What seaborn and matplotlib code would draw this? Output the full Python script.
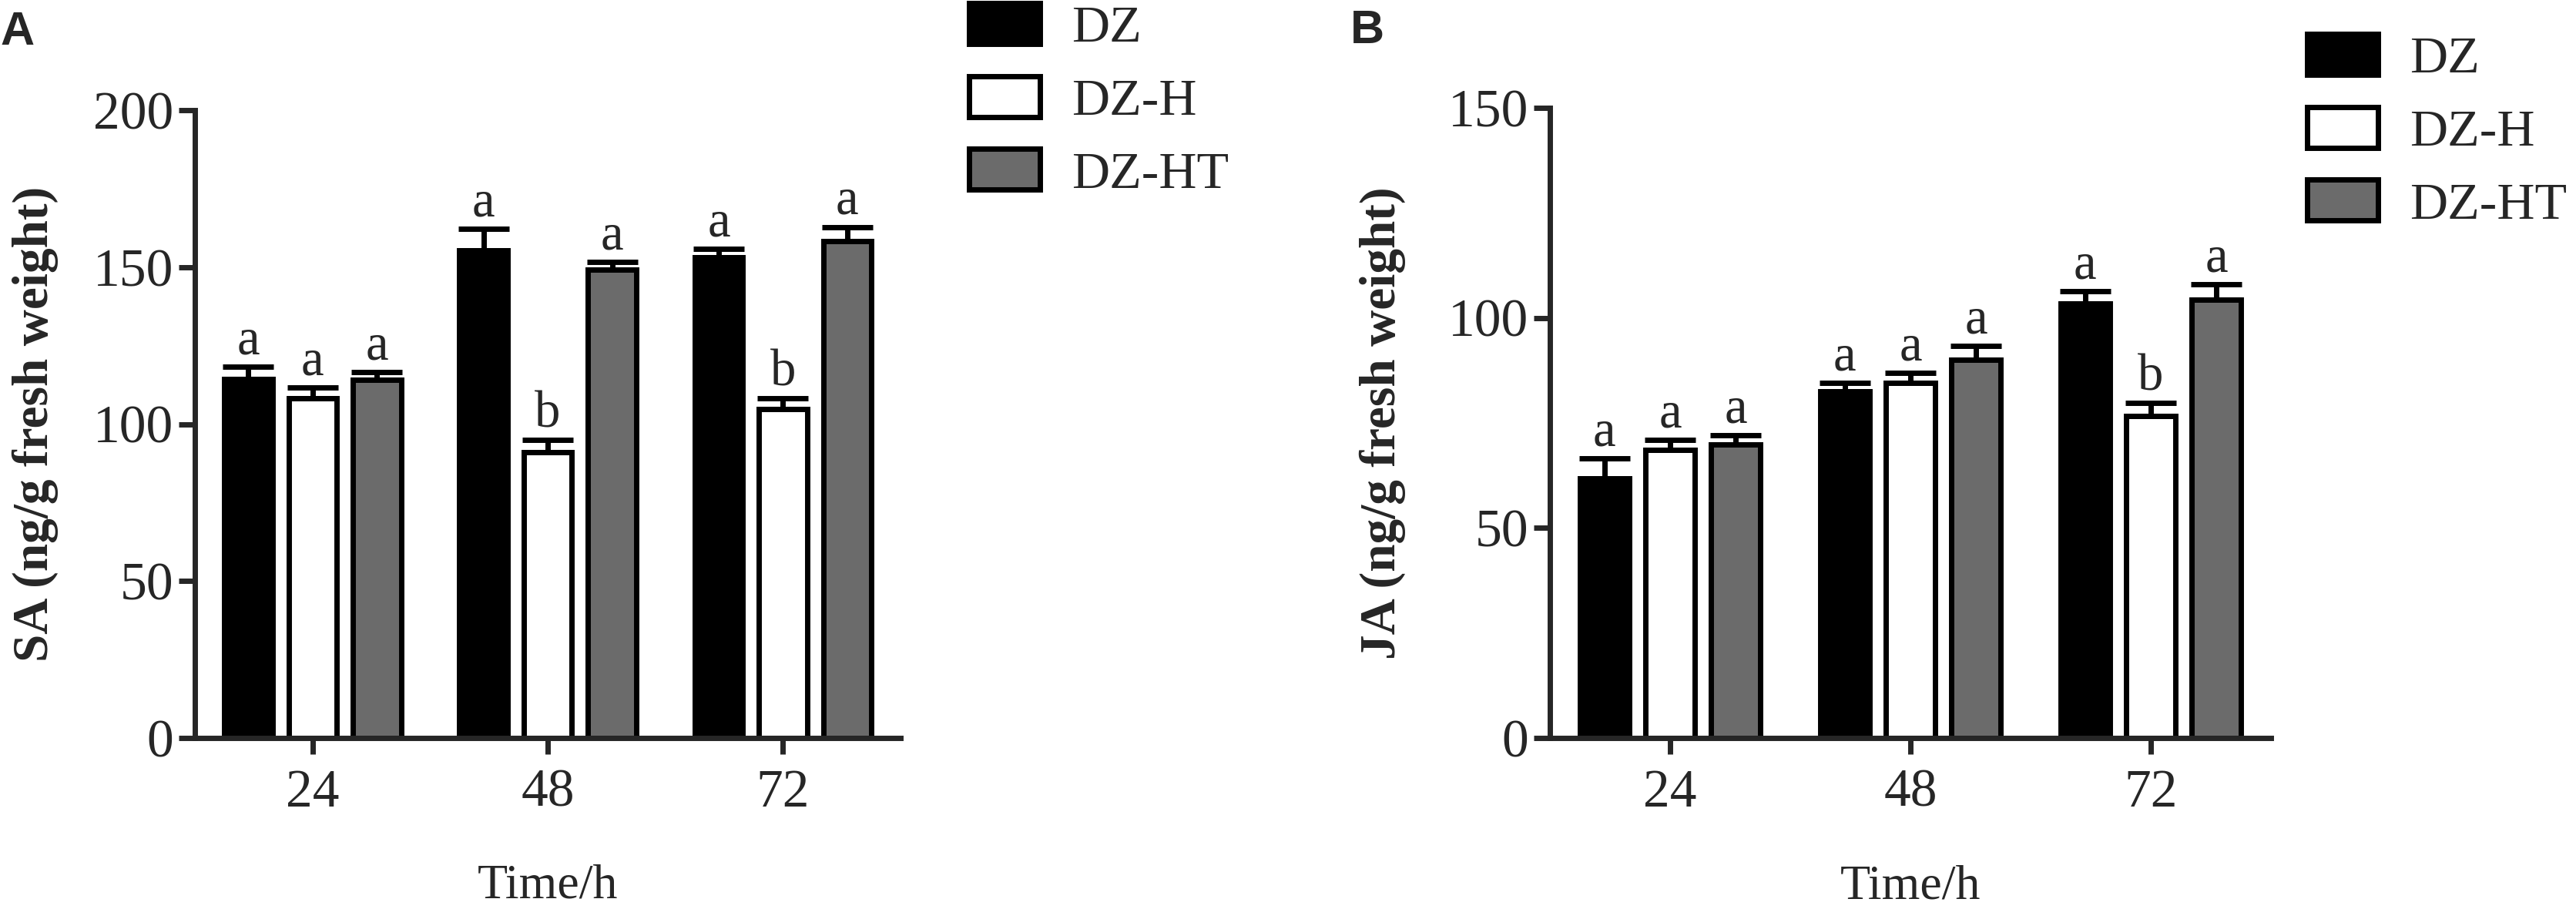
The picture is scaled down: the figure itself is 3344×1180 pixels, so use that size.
import numpy as np
import pandas as pd
import matplotlib
matplotlib.use("Agg")
import matplotlib.pyplot as plt
from matplotlib.patches import Patch
import seaborn as sns

# ---------------- data ----------------
times = ["24", "48", "72"]
groups = ["DZ", "DZ-H", "DZ-HT"]

sa_dz = [114.3, 155.4, 153.2]
sa_dzh = [108.2, 91.0, 104.7]
sa_dzht = [114.0, 149.3, 158.2]
sa_err_dz = [4.0, 6.7, 2.6]
sa_err_dzh = [3.4, 4.0, 3.5]
sa_err_dzht = [2.6, 2.4, 4.6]
sa_let_dz = ["a", "a", "a"]
sa_let_dzh = ["a", "b", "b"]
sa_let_dzht = ["a", "a", "a"]

ja_dz = [61.8, 82.5, 103.5]
ja_dzh = [68.6, 84.5, 76.6]
ja_dzht = [69.8, 90.0, 104.3]
ja_err_dz = [4.8, 2.1, 2.9]
ja_err_dzh = [2.4, 2.4, 3.2]
ja_err_dzht = [2.2, 3.3, 3.7]
ja_let_dz = ["a", "a", "a"]
ja_let_dzh = ["a", "a", "b"]
ja_let_dzht = ["a", "a", "a"]

sa_ticks = [0, 50, 100, 150, 200]
ja_ticks = [0, 50, 100, 150]

colors = {"DZ": "#000000", "DZ-H": "#ffffff", "DZ-HT": "#6b6b6b"}

# ---------------- style ----------------
sns.set_style("ticks")
SERIF = ["Liberation Serif", "DejaVu Serif"]
plt.rcParams["font.family"] = SERIF

LW = 5.0  # line width in points (~7 px)

fig = plt.figure(figsize=(33.44, 11.8), dpi=100)


def make_df(vals, errs, lets):
    rows = []
    for g, v, e, l in zip(groups, vals, errs, lets):
        for t, vv, ee, ll in zip(times, v, e, l):
            rows.append({"Time": t, "Group": g, "Value": vv, "Err": ee, "Letter": ll})
    return pd.DataFrame(rows)


def panel(rect, df, ticks, ylabel, ylab_x):
    ax = fig.add_axes(rect)
    sns.barplot(data=df, x="Time", y="Value", hue="Group", order=times,
                hue_order=groups, palette=colors, edgecolor="black",
                linewidth=LW, width=0.82, gap=0.25, errorbar=None,
                legend=False, ax=ax, saturation=1)
    for i, g in enumerate(groups):
        sub = df[df["Group"] == g].set_index("Time").loc[times]
        cont = ax.containers[i]
        xs = [b.get_x() + b.get_width() / 2 for b in cont]
        ys = sub["Value"].values
        es = sub["Err"].values
        ax.errorbar(xs, ys, yerr=[np.zeros_like(es), es], fmt="none",
                    ecolor="black", elinewidth=LW, capsize=24, capthick=LW,
                    zorder=1)
        for x, y, e, l in zip(xs, ys, es, sub["Letter"].values):
            ax.annotate(l, (x, y + e), xytext=(0, 12), textcoords="offset points",
                        ha="center", va="baseline", fontsize=48)
    ax.set_ylim(ticks[0], ticks[-1])
    ax.set_xlim(-0.5, 2.5)
    ax.set_yticks(ticks)
    ax.set_yticklabels([str(t) for t in ticks])
    sns.despine(ax=ax)
    for s in ["left", "bottom"]:
        ax.spines[s].set_linewidth(LW)
    ax.tick_params(axis="both", width=LW, length=15, labelsize=50, direction="out")
    ax.tick_params(axis="y", pad=5)
    ax.tick_params(axis="x", pad=14)
    ax.set_xlabel("Time/h", fontsize=46, va="baseline")
    ax.xaxis.set_label_coords(0.5, -0.255)
    ax.set_ylabel(ylabel, fontsize=47, fontweight="bold", va="center")
    ax.yaxis.set_label_coords(ylab_x, 0.5)
    return ax


df_sa = make_df([sa_dz, sa_dzh, sa_dzht], [sa_err_dz, sa_err_dzh, sa_err_dzht],
                [sa_let_dz, sa_let_dzh, sa_let_dzht])
df_ja = make_df([ja_dz, ja_dzh, ja_dzht], [ja_err_dz, ja_err_dzh, ja_err_dzht],
                [ja_let_dz, ja_let_dzh, ja_let_dzht])

axA = panel([0.0757, 0.1881, 0.2739, 0.6907], df_sa, sa_ticks,
            "SA (ng/g fresh weight)", -0.226)
axB = panel([0.6017, 0.1881, 0.2799, 0.6932], df_ja, ja_ticks,
            "JA (ng/g fresh weight)", -0.232)

handles = [Patch(facecolor=colors[g], edgecolor="black", linewidth=LW) for g in groups]
for anchor in [(1258 / 3344, 1 - 4 / 1180), (2995 / 3344, 1 - 44 / 1180)]:
    fig.legend(handles, groups, loc="upper left", bbox_to_anchor=anchor,
               frameon=False, borderpad=0, borderaxespad=0, fontsize=49,
               handlelength=1.35, handleheight=0.82, handletextpad=0.6,
               labelspacing=0.45)

fig.text(0.0, 1 - 14 / 1180, "A", fontsize=44, fontweight="bold",
         family=["Liberation Sans", "DejaVu Sans"], va="top", ha="left")
fig.text(1753 / 3344, 1 - 12 / 1180, "B", fontsize=44, fontweight="bold",
         family=["Liberation Sans", "DejaVu Sans"], va="top", ha="left")

fig.savefig("out.png", dpi=100)
